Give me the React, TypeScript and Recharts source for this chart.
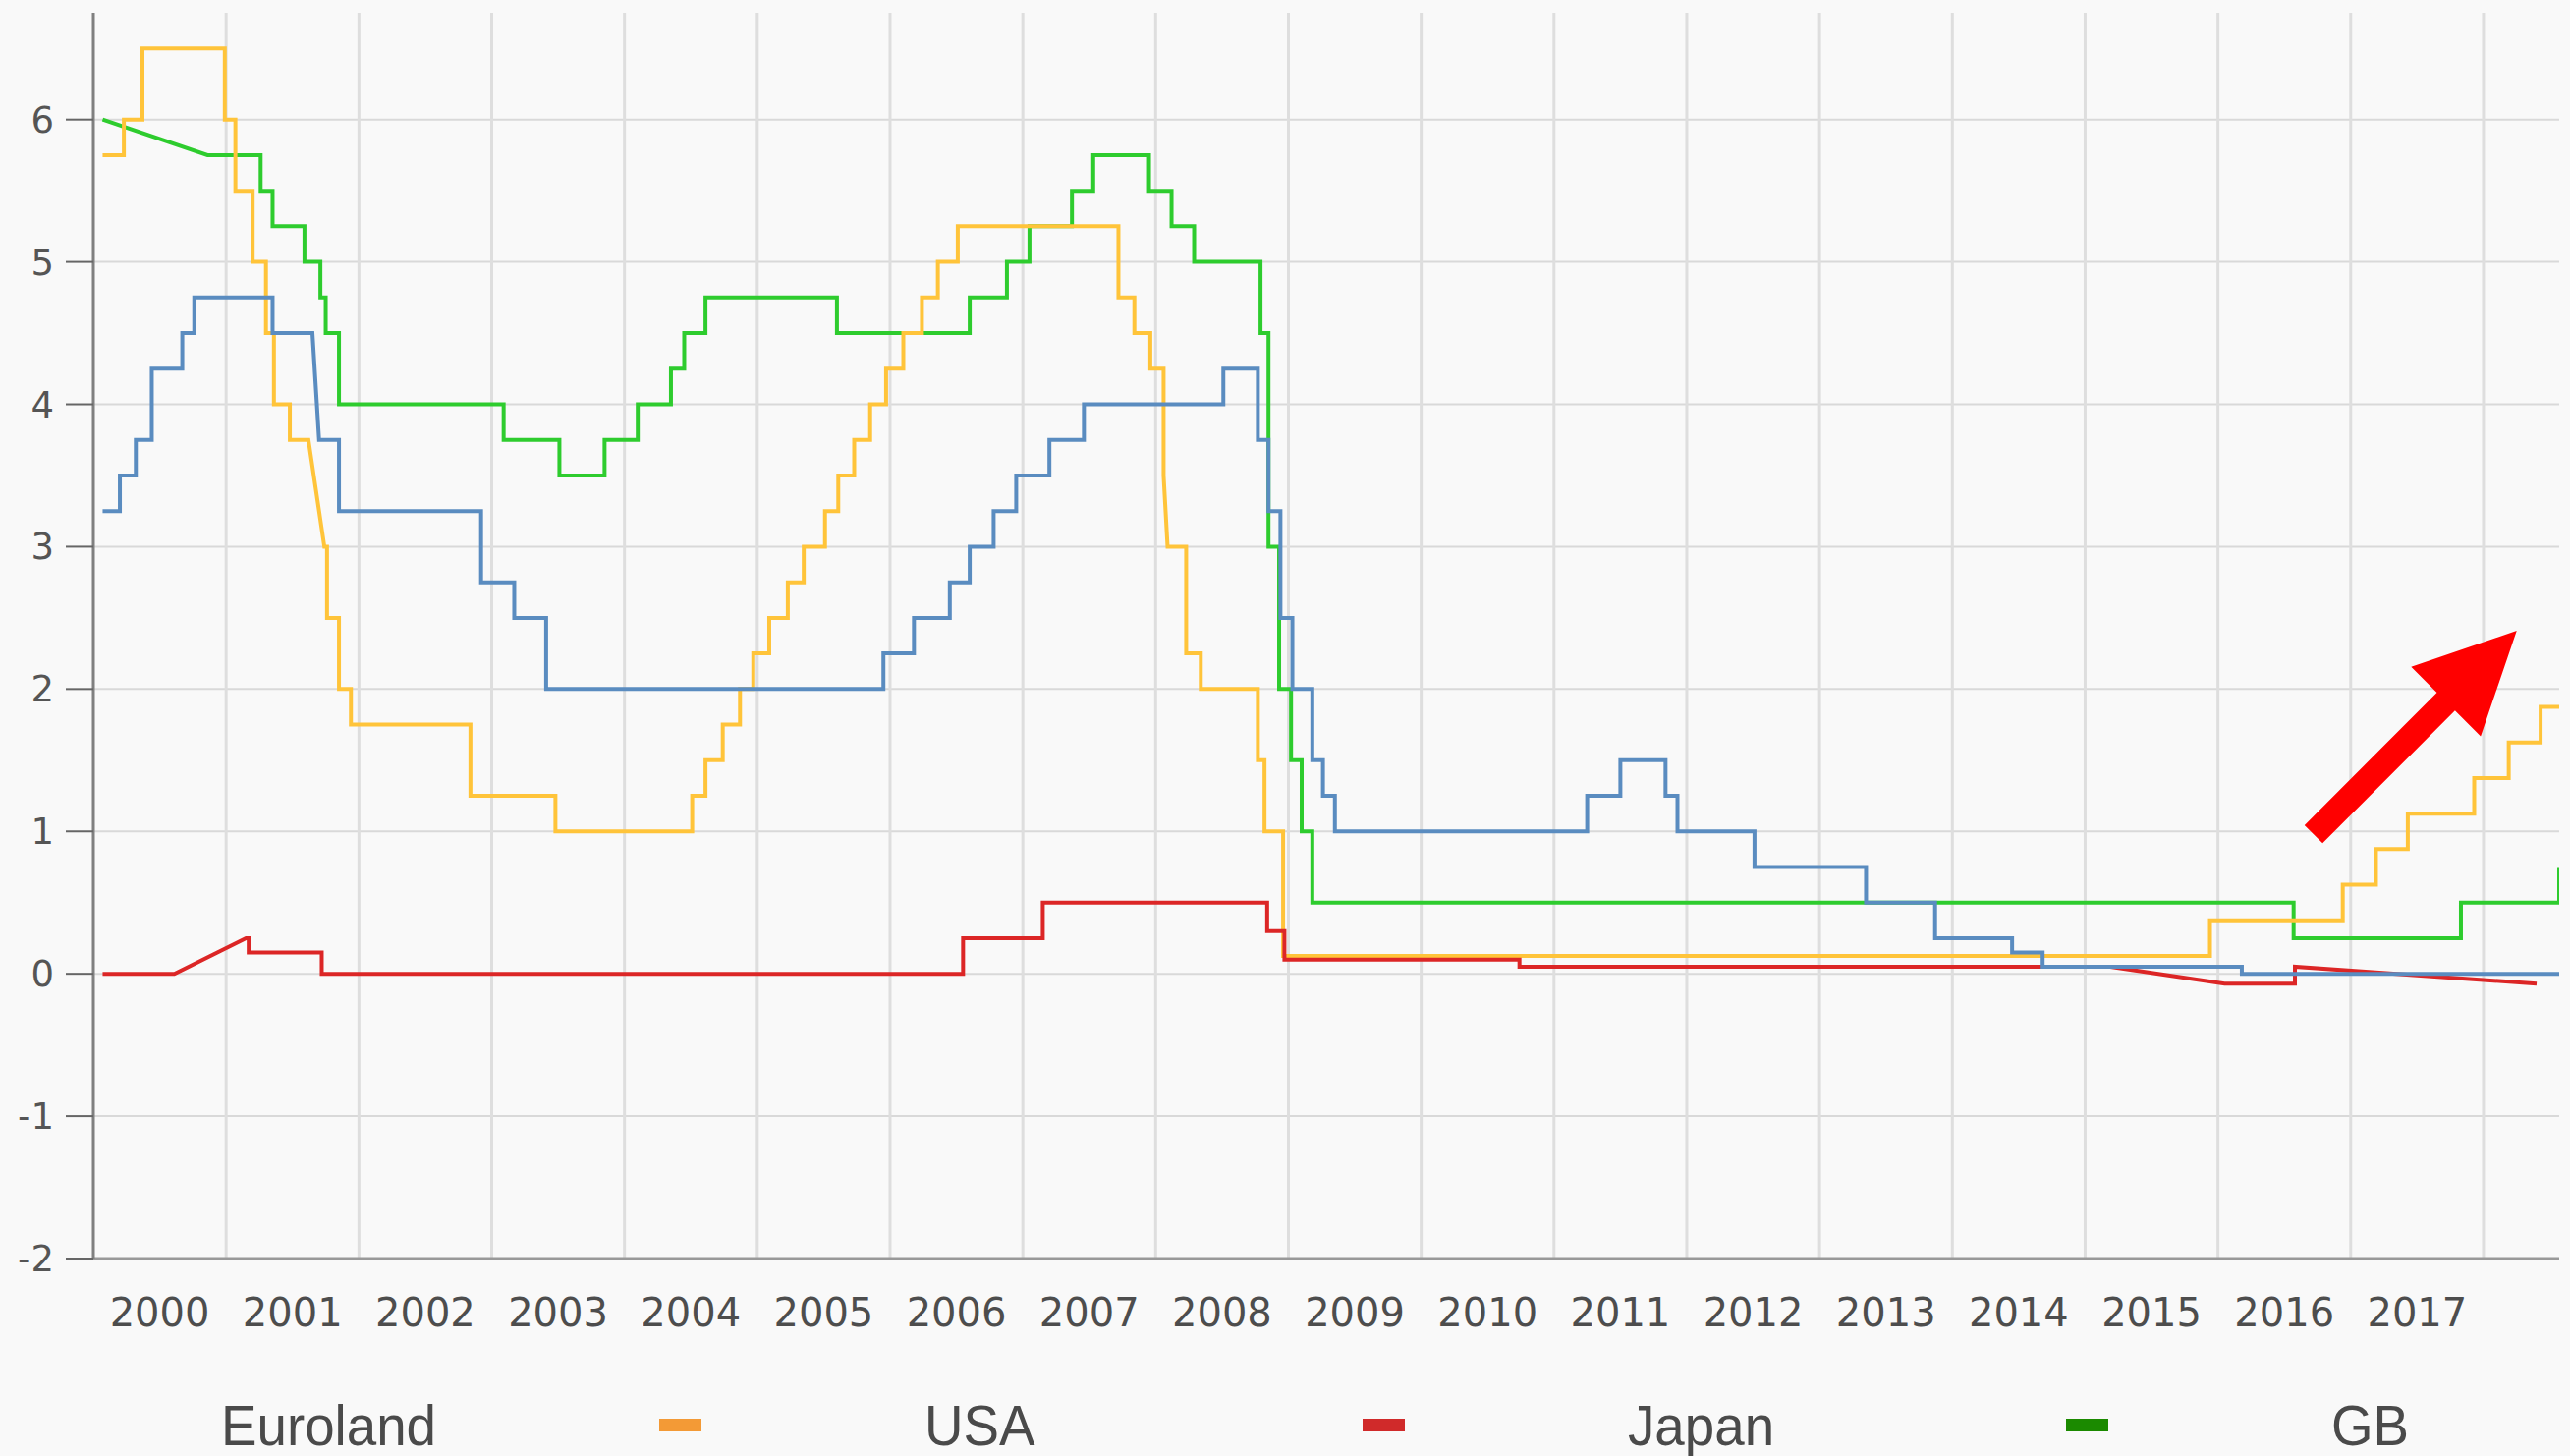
import React from "react";
import { LineChart, Line, XAxis, YAxis, CartesianGrid, ReferenceLine } from "recharts";

// Leitzinsen 2000-2018 (in %)
const seriesNames = ["Euroland", "USA", "Japan", "GB"];
const lineColors = ["#5a8cc0", "#ffc43a", "#dc2626", "#2ecc2e"];
const markerColors = ["#5a8cc0", "#f39a36", "#d02a2a", "#1b8a00"];

const yearLabels = [
  "2000", "2001", "2002", "2003", "2004", "2005", "2006", "2007", "2008",
  "2009", "2010", "2011", "2012", "2013", "2014", "2015", "2016", "2017",
];
const gridYears = [
  2001, 2002, 2003, 2004, 2005, 2006, 2007, 2008, 2009, 2010, 2011, 2012,
  2013, 2014, 2015, 2016, 2017, 2018,
];
const valueTicks = [-2, -1, 0, 1, 2, 3, 4, 5, 6];

// [zeit, wert] -> stufe auf wert bei zeit; drittes feld 1 = gerade linie vom vorigen punkt
type Pt = number[];

const euroland: Pt[] = [
  [2000.07, 3.25], [2000.2, 3.5], [2000.32, 3.75], [2000.44, 4.25], [2000.67, 4.5],
  [2000.76, 4.75], [2001.35, 4.5], [2001.65, 4.5, 1], [2001.7, 3.75, 1], [2001.85, 3.25],
  [2002.92, 2.75], [2003.17, 2.5], [2003.41, 2.0], [2005.95, 2.25], [2006.18, 2.5],
  [2006.45, 2.75], [2006.6, 3.0], [2006.78, 3.25], [2006.95, 3.5], [2007.2, 3.75],
  [2007.46, 4.0], [2008.51, 4.25], [2008.77, 3.75], [2008.85, 3.25], [2008.94, 2.5],
  [2009.03, 2.0], [2009.18, 1.5], [2009.26, 1.25], [2009.35, 1.0], [2011.25, 1.25],
  [2011.5, 1.5], [2011.84, 1.25], [2011.93, 1.0], [2012.51, 0.75], [2013.35, 0.5],
  [2013.87, 0.25], [2014.45, 0.15], [2014.68, 0.05], [2016.18, 0.0], [2018.57, 0.0, 1],
];

const usa: Pt[] = [
  [2000.07, 5.75], [2000.23, 6.0], [2000.37, 6.5], [2000.99, 6.0], [2001.07, 5.5],
  [2001.2, 5.0], [2001.3, 4.5], [2001.36, 4.0], [2001.48, 3.75], [2001.62, 3.75, 1],
  [2001.74, 3.0, 1], [2001.76, 2.5], [2001.85, 2.0], [2001.94, 1.75], [2002.84, 1.25],
  [2003.48, 1.0], [2004.51, 1.25], [2004.61, 1.5], [2004.74, 1.75], [2004.87, 2.0],
  [2004.97, 2.25], [2005.09, 2.5], [2005.23, 2.75], [2005.35, 3.0], [2005.51, 3.25],
  [2005.61, 3.5], [2005.73, 3.75], [2005.85, 4.0], [2005.97, 4.25], [2006.1, 4.5],
  [2006.24, 4.75], [2006.36, 5.0], [2006.51, 5.25], [2007.72, 4.75], [2007.84, 4.5],
  [2007.96, 4.25], [2008.06, 3.5], [2008.09, 3.0, 1], [2008.23, 2.25], [2008.34, 2.0],
  [2008.77, 1.5], [2008.82, 1.0], [2008.96, 0.125], [2015.94, 0.375], [2016.94, 0.625],
  [2017.19, 0.875], [2017.43, 1.125], [2017.93, 1.375], [2018.19, 1.625], [2018.43, 1.875],
  [2018.58, 1.875, 1],
];

const japan: Pt[] = [
  [2000.07, 0], [2000.61, 0, 1], [2001.15, 0.25, 1], [2001.17, 0.15], [2001.72, 0],
  [2006.55, 0.25], [2007.15, 0.5], [2008.84, 0.3], [2008.97, 0.1], [2010.74, 0.05],
  [2015.19, 0.05, 1], [2016.05, -0.07, 1], [2016.58, -0.07, 1], [2016.58, 0.05],
  [2018.4, -0.07, 1],
];

const gb: Pt[] = [
  [2000.07, 6.0], [2000.86, 5.75, 1], [2001.26, 5.5], [2001.35, 5.25], [2001.59, 5.0],
  [2001.71, 4.75], [2001.75, 4.5], [2001.85, 4.0], [2003.09, 3.75], [2003.51, 3.5],
  [2003.85, 3.75], [2004.1, 4.0], [2004.35, 4.25], [2004.45, 4.5], [2004.61, 4.75],
  [2005.6, 4.5], [2006.6, 4.75], [2006.88, 5.0], [2007.05, 5.25], [2007.37, 5.5],
  [2007.53, 5.75], [2007.95, 5.5], [2008.12, 5.25], [2008.29, 5.0], [2008.79, 4.5],
  [2008.85, 3.0], [2008.93, 2.0], [2009.02, 1.5], [2009.1, 1.0], [2009.18, 0.5],
  [2016.57, 0.25], [2017.83, 0.5], [2018.57, 0.5, 1], [2018.57, 0.75],
];

// roter pfeil (zeit, wert)
const arrowFrom = { t: 2016.72, v: 0.98 };
const arrowTo = { t: 2018.25, v: 2.41 };

const X_MIN = 2000;
const X_MAX = 2018.57;
const Y_MIN = -2;
const Y_MAX = 6.75;

function toLine(pts: Pt[]) {
  const out: { t: number; v: number }[] = [];
  pts.forEach((p, i) => {
    if (i > 0 && !p[2]) out.push({ t: p[0], v: pts[i - 1][1] });
    out.push({ t: p[0], v: p[1] });
  });
  return out;
}

const XTick = (props: any) => {
  const { x, y, payload } = props;
  const label = yearLabels[Math.floor(payload.value) - 2000];
  return (
    <text x={x} y={y + 69} textAnchor="middle" fontFamily="DejaVu Sans" fontSize={40} fill="#4d4d4d">
      {label}
    </text>
  );
};

const YTick = (props: any) => {
  const { x, y, payload } = props;
  return (
    <text x={x} y={y + 13} textAnchor="end" fontFamily="DejaVu Sans" fontSize={37} fill="#555">
      {String(payload.value)}
    </text>
  );
};

const Arrow = (p: any) => {
  const { x1, y1, x2, y2 } = p;
  const dx = x2 - x1;
  const dy = y2 - y1;
  const len = Math.hypot(dx, dy);
  const ux = dx / len;
  const uy = dy / len;
  const nx = -uy;
  const ny = ux;
  const shaft = 13;
  const head = 50;
  const headLen = 102;
  const bx = x2 - ux * headLen;
  const by = y2 - uy * headLen;
  const pts = [
    [x1 + nx * shaft, y1 + ny * shaft],
    [bx + nx * shaft, by + ny * shaft],
    [bx + nx * head, by + ny * head],
    [x2, y2],
    [bx - nx * head, by - ny * head],
    [bx - nx * shaft, by - ny * shaft],
    [x1 - nx * shaft, y1 - ny * shaft],
  ];
  return <polygon points={pts.map((q) => q.join(",")).join(" ")} fill="#ff0000" />;
};

const yearGrid = (args: any) => {
  const { xAxis, offset } = args;
  return gridYears.map((yr) =>
    xAxis && typeof xAxis.scale === "function"
      ? xAxis.scale(yr)
      : offset.left + ((yr - X_MIN) / (X_MAX - X_MIN)) * offset.width
  );
};

const valueGrid = (args: any) => {
  const { yAxis, offset } = args;
  return valueTicks
    .filter((v) => v > Y_MIN)
    .map((v) =>
      yAxis && typeof yAxis.scale === "function"
        ? yAxis.scale(v)
        : offset.top + ((Y_MAX - v) / (Y_MAX - Y_MIN)) * offset.height
    );
};

const seriesData = [euroland, usa, japan, gb];
const drawOrder = [3, 1, 2, 0];

export default function App() {
  return (
    <div
      style={{
        position: "absolute",
        left: 0,
        top: 0,
        width: 2616,
        height: 1482,
        overflow: "hidden",
        background: "#f9f9f9",
      }}
    >
      <LineChart width={2616} height={1482} margin={{ top: 13, right: 11, bottom: 121, left: 0 }}>
        <CartesianGrid
          vertical={false}
          stroke="#d9d9d9"
          strokeWidth={2}
          horizontalCoordinatesGenerator={valueGrid}
        />
        <CartesianGrid
          horizontal={false}
          stroke="#dedede"
          strokeWidth={3}
          verticalCoordinatesGenerator={yearGrid}
        />
        <XAxis
          type="number"
          dataKey="t"
          domain={[X_MIN, X_MAX]}
          allowDataOverflow
          ticks={yearLabels.map((l) => Number(l) + 0.5)}
          interval={0}
          tick={<XTick />}
          tickLine={false}
          tickSize={0}
          tickMargin={0}
          height={80}
          axisLine={{ stroke: "#999", strokeWidth: 3 }}
        />
        <YAxis
          type="number"
          domain={[Y_MIN, Y_MAX]}
          allowDataOverflow
          ticks={valueTicks}
          interval={0}
          width={95}
          tickSize={28}
          tickMargin={12}
          tick={<YTick />}
          tickLine={{ stroke: "#666", strokeWidth: 2 }}
          axisLine={{ stroke: "#808080", strokeWidth: 3 }}
        />
        {drawOrder.map((i) => (
          <Line
            key={seriesNames[i]}
            name={seriesNames[i]}
            data={toLine(seriesData[i])}
            dataKey="v"
            type="linear"
            stroke={lineColors[i]}
            strokeWidth={4}
            dot={false}
            activeDot={false}
            isAnimationActive={false}
          />
        ))}
        <ReferenceLine
          segment={[
            { x: arrowFrom.t, y: arrowFrom.v },
            { x: arrowTo.t, y: arrowTo.v },
          ]}
          shape={Arrow}
        />
      </LineChart>
      <svg
        width={2616}
        height={1482}
        style={{ position: "absolute", left: 0, top: 0, pointerEvents: "none" }}
      >
        {seriesNames.map((name, i) => {
          const labelX = 225 + 716 * i;
          const markerX = labelX - 270;
          return (
            <g key={name}>
              <rect x={markerX} y={1444} width={43} height={13} fill={markerColors[i]} />
              <g transform={`translate(${labelX},1471) scale(0.96,1)`}>
                <text x={0} y={0} fontFamily="Liberation Sans, Arial" fontSize={57} fill="#4a4a4a">
                  {name}
                </text>
              </g>
            </g>
          );
        })}
      </svg>
    </div>
  );
}
